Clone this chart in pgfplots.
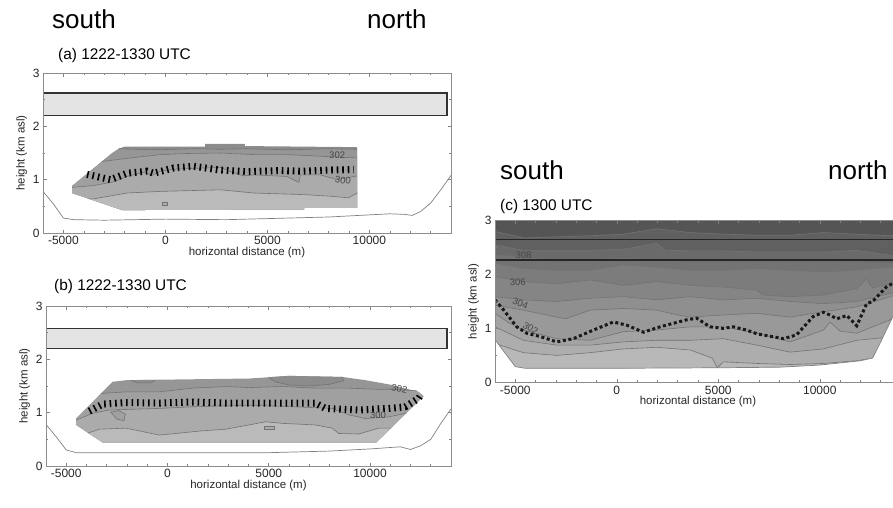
\documentclass[border=0pt]{standalone}
\usepackage{fontspec}
\setmainfont{Liberation Sans}
\usepackage{pgfplots}
\pgfplotsset{compat=1.18}

% grey levels of the filled bands
\definecolor{gA1}{HTML}{8C8C8C}
\definecolor{gA2}{HTML}{969696}
\definecolor{gA3}{HTML}{A0A0A0}
\definecolor{gA4}{HTML}{ABABAB}
\definecolor{gA5}{HTML}{BABABA}
\definecolor{box}{HTML}{E4E4E4}
\definecolor{c0}{HTML}{555555}
\definecolor{c1}{HTML}{606060}
\definecolor{c2}{HTML}{6A6A6A}
\definecolor{c3}{HTML}{737373}
\definecolor{c4}{HTML}{7C7C7C}
\definecolor{c5}{HTML}{858585}
\definecolor{c6}{HTML}{8F8F8F}
\definecolor{c7}{HTML}{999999}
\definecolor{c8}{HTML}{A3A3A3}
\definecolor{c9}{HTML}{ADADAD}
\definecolor{c10}{HTML}{B8B8B8}

\tikzset{lab/.style={font=\fontsize{9.5}{11}\selectfont, text=black!72, inner sep=0.3pt}}

\pgfplotsset{
  panel/.style={
    scale only axis, anchor=south west, axis on top,
    xmin=-6000, xmax=14000, ymin=0, ymax=3,
    xtick={-5000,0,5000,10000}, xticklabels={-5000,0,5000,10000},
    minor xtick={-6000,-4000,-3000,-2000,-1000,1000,2000,3000,4000,6000,7000,8000,9000,11000,12000,13000},
    ytick={0,1,2,3}, yticklabels={0,1,2,3}, minor ytick={0.5,1.5,2.5},
    scaled x ticks=false,
    tick align=inside, major tick length=3.5pt, minor tick length=2pt,
    axis line style={draw=black!45, line width=0.7pt},
    tick style={black!50, line width=0.6pt},
    tick label style={font=\fontsize{12}{14}\selectfont, text=black!85},
    xlabel={horizontal distance (m)}, ylabel={height (km asl)},
    label style={font=\fontsize{11.5}{13}\selectfont, text=black!85},
    xlabel style={yshift=5pt}, ylabel style={yshift=-1pt},
  },
  cl/.style={draw=black!55, line width=0.6pt},
  pbl/.style={black, line width=7pt, dash pattern=on 1.6pt off 3.9pt},
  pblc/.style={black!90, line width=3pt, dash pattern=on 3pt off 2.6pt},
  terr/.style={draw=black!50, line width=0.7pt},
}

\begin{document}
\begin{tikzpicture}
\useasboundingbox (0pt,0pt) rectangle (893pt,507pt);
\clip (0pt,0pt) rectangle (893pt,507pt);

% ---------------- panel (a)
\begin{axis}[panel, at={(43pt,274pt)}, width=408pt, height=160pt]
\addplot[fill=gA1, draw=none] coordinates {(-4575,0.88) (-2600,1.5) (-2280,1.58) (-2000,1.62) (1950,1.62) (1950,1.67) (3900,1.67) (3900,1.63) (9400,1.61) (9400,0.47) (6800,0.47) (6800,0.44) (-2120,0.43) (-4575,0.75)} --cycle;
\addplot[fill=gA2, draw=none] coordinates {(-2280,1.58) (-500,1.56) (1500,1.58) (2700,1.57) (4000,1.58) (6000,1.56) (8000,1.58) (9400,1.57) (9400,0.47) (6800,0.47) (6800,0.44) (-2120,0.43) (-4575,0.75) (-4575,0.88) (-2600,1.5)} --cycle;
\addplot[fill=gA3, draw=none] coordinates {(-3110,1.34) (-1880,1.4) (-245,1.47) (1000,1.49) (2700,1.5) (4330,1.47) (5960,1.47) (7600,1.44) (9230,1.41) (9400,1.41) (9400,0.47) (6800,0.47) (6800,0.44) (-2120,0.43) (-4575,0.75) (-4575,0.88)} --cycle;
\addplot[fill=gA4, draw=none] coordinates {(-4575,0.855) (-3513,0.89) (-2530,0.96) (-1879,1.06) (-1062,1.14) (-654,1.08) (-245,1.16) (573,1.2) (2700,1.23) (3350,1.13) (3840,1.07) (4330,1.09) (5960,1.06) (6540,0.95) (6620,1.09) (7600,1.09) (8415,1.0) (9400,1.07) (9400,0.47) (6800,0.47) (6800,0.44) (-2120,0.43) (-4575,0.75)} --cycle;
\addplot[fill=gA5, draw=none] coordinates {(-3760,0.64) (-3513,0.64) (-1879,0.75) (-245,0.78) (2700,0.81) (4330,0.75) (6770,0.72) (8090,0.69) (8970,0.66) (9400,0.75) (9400,0.47) (6800,0.47) (6800,0.44) (-2120,0.43)} --cycle;
\addplot[cl] coordinates {(-2280,1.58) (-500,1.56) (1500,1.58) (2700,1.57) (4000,1.58) (6000,1.56) (8000,1.58) (9400,1.57)};
\addplot[cl] coordinates {(-3110,1.34) (-1880,1.4) (-245,1.47) (1000,1.49) (2700,1.5) (4330,1.47) (5960,1.47) (7600,1.44) (9230,1.41) (9400,1.41)};
\addplot[cl] coordinates {(-4575,0.855) (-3513,0.89) (-2530,0.96) (-1879,1.06) (-1062,1.14) (-654,1.08) (-245,1.16) (573,1.2) (2700,1.23) (3350,1.13) (3840,1.07) (4330,1.09) (5960,1.06) (6540,0.95) (6620,1.09) (7600,1.09) (8415,1.0) (9400,1.07)};
\addplot[cl] coordinates {(-3760,0.64) (-3513,0.64) (-1879,0.75) (-245,0.78) (2700,0.81) (4330,0.75) (6770,0.72) (8090,0.69) (8970,0.66) (9400,0.75)};
\addplot[cl, fill=gA4] coordinates {(-150,0.52) (100,0.52) (100,0.57) (-150,0.57)} --cycle;
\addplot[pbl] coordinates {(-3840,1.1) (-2700,1.0) (-1879,1.12) (-900,1.16) (-572,1.12) (408,1.22) (1390,1.25) (2700,1.18) (3960,1.15) (5500,1.17) (6780,1.16) (8000,1.18) (9230,1.19)};
\addplot[fill=box, draw=black!80, line width=1.4pt] coordinates {(-6000,2.2) (13800,2.2) (13800,2.625) (-6000,2.625)} --cycle;
\addplot[terr] coordinates {(-6000,0.78) (-5500,0.55) (-5000,0.28) (-4500,0.25) (-3000,0.24) (0,0.26) (3000,0.25) (5000,0.27) (8000,0.3) (10000,0.34) (11000,0.36) (11700,0.35) (12100,0.33) (12500,0.4) (13000,0.56) (13500,0.81) (14000,1.08)};
\node[lab] at (axis cs:8420,1.45) {302};
\node[lab, rotate=-8] at (axis cs:8700,0.99) {300};
\end{axis}

% ---------------- panel (b)
\begin{axis}[panel, at={(46pt,41pt)}, width=405pt, height=160pt]
\addplot[fill=gA2, draw=none] coordinates {(-4510,0.89) (-2710,1.58) (-2000,1.61) (0,1.62) (2000,1.63) (4030,1.64) (6000,1.69) (8620,1.67) (9770,1.61) (11080,1.52) (12400,1.39) (12650,1.31) (10300,0.44) (-3200,0.44) (-4510,0.77)} --cycle;
\addplot[fill=gA1, draw=none] coordinates {(5000,1.665) (6000,1.69) (8620,1.67) (8700,1.6) (8000,1.53) (7000,1.5) (6000,1.52) (5300,1.58)} --cycle;
\addplot[fill=gA1, draw=none] coordinates {(-1800,1.61) (-1500,1.56) (-800,1.56) (-600,1.615)} --cycle;
\addplot[fill=gA3, draw=none] coordinates {(-3283,1.36) (-2050,1.39) (-410,1.39) (1230,1.46) (2870,1.49) (4020,1.47) (5660,1.49) (7300,1.46) (8950,1.46) (10260,1.44) (11080,1.44) (12300,1.41) (12650,1.31) (10300,0.44) (-3200,0.44) (-4510,0.77) (-4510,0.89)} --cycle;
\addplot[fill=gA4, draw=none] coordinates {(-4510,0.86) (-3690,0.99) (-2870,1.05) (-2050,1.06) (-410,1.08) (1230,1.11) (4020,1.14) (5660,1.12) (8130,1.08) (8950,0.96) (9770,0.89) (10920,0.92) (11786,0.99) (10300,0.44) (-3200,0.44) (-4510,0.77)} --cycle;
\addplot[fill=gA5, draw=none] coordinates {(-3915,0.62) (-3360,0.69) (-2050,0.71) (-410,0.58) (410,0.61) (1720,0.66) (2870,0.69) (4020,0.77) (4850,0.83) (5660,0.8) (7300,0.77) (8130,0.71) (8460,0.61) (9440,0.6) (10430,0.71) (11030,0.71) (10300,0.44) (-3200,0.44)} --cycle;
\addplot[cl] coordinates {(5000,1.665) (5300,1.58) (6000,1.52) (7000,1.5) (8000,1.53) (8700,1.6) (8620,1.67)};
\addplot[cl] coordinates {(-1800,1.61) (-1500,1.56) (-800,1.56) (-600,1.615)};
\addplot[cl] coordinates {(-3283,1.36) (-2050,1.39) (-410,1.39) (1230,1.46) (2870,1.49) (4020,1.47) (5660,1.49) (7300,1.46) (8950,1.46) (10260,1.44) (11080,1.44) (12300,1.41)};
\addplot[cl] coordinates {(-4510,0.86) (-3690,0.99) (-2870,1.05) (-2050,1.06) (-410,1.08) (1230,1.11) (4020,1.14) (5660,1.12) (8130,1.08) (8950,0.96) (9770,0.89) (10920,0.92) (11786,0.99)};
\addplot[cl] coordinates {(-3915,0.62) (-3360,0.69) (-2050,0.71) (-410,0.58) (410,0.61) (1720,0.66) (2870,0.69) (4020,0.77) (4850,0.83) (5660,0.8) (7300,0.77) (8130,0.71) (8460,0.61) (9440,0.6) (10430,0.71) (11030,0.71)};
\addplot[cl, fill=gA3] coordinates {(-2800,1.01) (-2500,0.88) (-2150,0.85) (-2080,0.97) (-2400,1.04)} --cycle;
\addplot[cl, fill=gA4] coordinates {(4800,0.69) (5250,0.69) (5250,0.74) (4800,0.74)} --cycle;
\addplot[pbl] coordinates {(-3860,1.03) (-3200,1.16) (-2050,1.19) (-410,1.18) (1230,1.2) (2870,1.18) (4020,1.18) (7300,1.18) (7800,1.08) (9440,1.05) (10920,1.08) (11740,1.11) (12400,1.27) (12560,1.36)};
\addplot[fill=box, draw=black!80, line width=1.4pt] coordinates {(-6000,2.2) (13800,2.2) (13800,2.58) (-6000,2.58)} --cycle;
\addplot[terr] coordinates {(-6000,0.78) (-5500,0.55) (-5000,0.3) (-4500,0.25) (0,0.25) (5000,0.25) (8000,0.28) (10000,0.32) (11500,0.36) (12000,0.31) (12500,0.38) (13000,0.5) (13500,0.8) (14000,1.07)};
\node[lab, rotate=-12] at (axis cs:11450,1.45) {302};
\node[lab] at (axis cs:10400,0.95) {300};
\end{axis}

% ---------------- panel (c)
\begin{axis}[panel, at={(495pt,124.7pt)}, width=406pt, height=161.6pt]
\addplot[fill=c0, draw=none] coordinates {(-6000,0) (14000,0) (14000,3) (-6000,3)} --cycle;
\addplot[fill=c1, draw=none] coordinates {(-6000,2.80) (-4600,2.68) (-2960,2.70) (-1315,2.72) (325,2.75) (1970,2.85) (3610,2.78) (5250,2.75) (6900,2.73) (8540,2.73) (10180,2.78) (11820,2.75) (13460,2.72) (14000,2.72) (14000,0) (-6000,0)} --cycle;
\addplot[fill=c2, draw=none] coordinates {(-6000,2.55) (-4600,2.45) (-2960,2.45) (-1315,2.45) (325,2.47) (1970,2.58) (2400,2.45) (3610,2.44) (5250,2.44) (6900,2.42) (8540,2.42) (10180,2.42) (11820,2.45) (13460,2.36) (14000,2.36) (14000,0) (-6000,0)} --cycle;
\addplot[fill=c3, draw=none] coordinates {(-6000,2.36) (-4600,2.33) (-2960,2.24) (-1315,2.27) (325,2.30) (1970,2.27) (3610,2.24) (5250,2.24) (6900,2.24) (8540,2.24) (10180,2.24) (11820,2.24) (13460,2.21) (14000,2.21) (14000,0) (-6000,0)} --cycle;
\addplot[fill=c4, draw=none] coordinates {(-6000,2.21) (-4600,2.11) (-2960,2.08) (-1315,2.08) (325,2.18) (1970,2.14) (3610,2.08) (5250,2.08) (6900,2.11) (8540,2.08) (10180,2.05) (11820,2.08) (13460,2.14) (14000,2.14) (14000,0) (-6000,0)} --cycle;
\addplot[fill=c5, draw=none] coordinates {(-6000,1.96) (-4600,1.87) (-2960,1.83) (-1315,1.90) (325,1.80) (1970,1.87) (3610,1.80) (5250,1.77) (6900,1.71) (7200,1.62) (8540,1.59) (10180,1.62) (11820,1.74) (12300,1.92) (12600,1.75) (13460,1.83) (14000,1.85) (14000,0) (-6000,0)} --cycle;
\addplot[fill=c6, draw=none] coordinates {(-6000,1.59) (-4600,1.53) (-2960,1.50) (-1315,1.56) (325,1.59) (1970,1.53) (3610,1.59) (5250,1.53) (6900,1.56) (8540,1.50) (10180,1.46) (11820,1.50) (13460,1.65) (14000,1.68) (14000,0) (-6000,0)} --cycle;
\addplot[fill=c7, draw=none] coordinates {(-6000,1.43) (-4600,1.34) (-2960,1.21) (-2500,1.18) (-1315,1.34) (325,1.37) (1970,1.34) (3000,1.25) (3610,1.21) (5250,1.25) (6900,1.28) (8540,1.21) (10180,1.31) (11820,1.40) (13460,1.59) (14000,1.65) (14000,0) (-6000,0)} --cycle;
\addplot[fill=c8, draw=none] coordinates {(-6000,1.28) (-5300,1.1) (-4600,0.97) (-2960,0.81) (-1315,0.78) (325,0.94) (1970,0.97) (3610,1.03) (5250,1.03) (6900,0.91) (8540,0.75) (10180,0.97) (10500,1.12) (11000,0.95) (11820,0.91) (13460,1.16) (14000,1.28) (14000,0) (-6000,0)} --cycle;
\addplot[fill=c9, draw=none] coordinates {(-6000,1.03) (-4600,0.78) (-2960,0.69) (-1315,0.69) (325,0.75) (1970,0.78) (3610,0.78) (5250,0.81) (6900,0.69) (8540,0.56) (10180,0.62) (11820,0.78) (13460,0.84) (14000,0.97) (14000,0) (-6000,0)} --cycle;
\addplot[fill=c10, draw=none] coordinates {(-6000,0.72) (-4600,0.55) (-2960,0.5) (-1315,0.55) (325,0.62) (1970,0.65) (3610,0.6) (4700,0.45) (4950,0.27) (5250,0.38) (6900,0.35) (8540,0.33) (10180,0.35) (11820,0.4) (13460,0.5) (14000,0.7) (14000,0) (-6000,0)} --cycle;
% contour lines
\addplot[cl] coordinates {(-6000,2.80) (-4600,2.68) (-2960,2.70) (-1315,2.72) (325,2.75) (1970,2.85) (3610,2.78) (5250,2.75) (6900,2.73) (8540,2.73) (10180,2.78) (11820,2.75) (13460,2.72) (14000,2.72)};
\addplot[cl] coordinates {(-6000,2.55) (-4600,2.45) (-2960,2.45) (-1315,2.45) (325,2.47) (1970,2.58) (2400,2.45) (3610,2.44) (5250,2.44) (6900,2.42) (8540,2.42) (10180,2.42) (11820,2.45) (13460,2.36) (14000,2.36)};
\addplot[cl] coordinates {(-6000,2.36) (-4600,2.33) (-2960,2.24) (-1315,2.27) (325,2.30) (1970,2.27) (3610,2.24) (5250,2.24) (6900,2.24) (8540,2.24) (10180,2.24) (11820,2.24) (13460,2.21) (14000,2.21)};
\addplot[cl] coordinates {(-6000,2.21) (-4600,2.11) (-2960,2.08) (-1315,2.08) (325,2.18) (1970,2.14) (3610,2.08) (5250,2.08) (6900,2.11) (8540,2.08) (10180,2.05) (11820,2.08) (13460,2.14) (14000,2.14)};
\addplot[cl] coordinates {(-6000,1.96) (-4600,1.87) (-2960,1.83) (-1315,1.90) (325,1.80) (1970,1.87) (3610,1.80) (5250,1.77) (6900,1.71) (7200,1.62) (8540,1.59) (10180,1.62) (11820,1.74) (12300,1.92) (12600,1.75) (13460,1.83) (14000,1.85)};
\addplot[cl] coordinates {(-6000,1.59) (-4600,1.53) (-2960,1.50) (-1315,1.56) (325,1.59) (1970,1.53) (3610,1.59) (5250,1.53) (6900,1.56) (8540,1.50) (10180,1.46) (11820,1.50) (13460,1.65) (14000,1.68)};
\addplot[cl] coordinates {(-6000,1.43) (-4600,1.34) (-2960,1.21) (-2500,1.18) (-1315,1.34) (325,1.37) (1970,1.34) (3000,1.25) (3610,1.21) (5250,1.25) (6900,1.28) (8540,1.21) (10180,1.31) (11820,1.40) (13460,1.59) (14000,1.65)};
\addplot[cl] coordinates {(-6000,1.28) (-5300,1.1) (-4600,0.97) (-2960,0.81) (-1315,0.78) (325,0.94) (1970,0.97) (3610,1.03) (5250,1.03) (6900,0.91) (8540,0.75) (10180,0.97) (10500,1.12) (11000,0.95) (11820,0.91) (13460,1.16) (14000,1.28)};
\addplot[cl] coordinates {(-6000,1.03) (-4600,0.78) (-2960,0.69) (-1315,0.69) (325,0.75) (1970,0.78) (3610,0.78) (5250,0.81) (6900,0.69) (8540,0.56) (10180,0.62) (11820,0.78) (13460,0.84) (14000,0.97)};
\addplot[cl] coordinates {(-6000,0.72) (-4600,0.55) (-2960,0.5) (-1315,0.55) (325,0.62) (1970,0.65) (3610,0.6) (4700,0.45) (4950,0.27) (5250,0.38) (6900,0.35) (8540,0.33) (10180,0.35) (11820,0.4) (13460,0.5) (14000,0.7)};
% ground below the terrain
\addplot[fill=white, draw=none] coordinates {(-6000,0.79) (-5000,0.29) (-4500,0.26) (0,0.26) (5000,0.27) (8000,0.28) (10000,0.32) (11000,0.36) (12000,0.4) (12600,0.45) (13000,0.75) (13600,1.22) (14000,1.55) (14000,0) (-6000,0)} --cycle;
\addplot[terr] coordinates {(-6000,0.79) (-5000,0.29) (-4500,0.26) (0,0.26) (5000,0.27) (8000,0.28) (10000,0.32) (11000,0.36) (12000,0.4) (12600,0.45) (13000,0.75) (13600,1.22) (14000,1.55)};
\addplot[pblc] coordinates {(-6000,1.53) (-5570,1.34) (-4930,1.03) (-4430,0.91) (-3780,0.85) (-2960,0.75) (-2140,0.81) (-1150,0.97) (-170,1.12) (490,1.06) (1310,0.93) (2130,1.03) (3440,1.16) (3930,1.19) (4590,1.03) (5250,1.0) (5740,1.03) (6390,0.97) (6900,0.9) (8210,0.81) (8850,0.88) (9670,1.22) (10180,1.30) (10490,1.25) (10840,1.18) (11330,1.24) (11820,1.05) (12310,1.46) (12600,1.5) (13280,1.77) (13600,1.84) (14000,2.0)};
\addplot[draw=black!85, line width=1.2pt] coordinates {(-6000,2.27) (14200,2.27) (14200,2.65) (-6000,2.65)} --cycle;
\node[lab] at (axis cs:-4590,2.36) {308};
\node[lab] at (axis cs:-4880,1.86) {306};
\node[lab, rotate=-22] at (axis cs:-4750,1.46) {304};
\node[lab, rotate=-30] at (axis cs:-4250,1.0) {302};
\end{axis}

% titles and compass words
\node[anchor=base west, inner sep=0pt, font=\fontsize{15.4}{17}\selectfont] at (58pt,447pt) {(a) 1222-1330 UTC};
\node[anchor=base west, inner sep=0pt, font=\fontsize{15.4}{17}\selectfont] at (54pt,217pt) {(b) 1222-1330 UTC};
\node[anchor=base west, inner sep=0pt, font=\fontsize{15.4}{17}\selectfont] at (500pt,297pt) {(c) 1300 UTC};
\node[anchor=base west, font=\fontsize{26}{30}\selectfont, inner sep=0pt] at (52pt,478pt) {south};
\node[anchor=base west, font=\fontsize{26}{30}\selectfont, inner sep=0pt] at (367pt,478pt) {north};
\node[anchor=base west, font=\fontsize{26}{30}\selectfont, inner sep=0pt] at (500pt,328pt) {south};
\node[anchor=base west, font=\fontsize{26}{30}\selectfont, inner sep=0pt] at (828pt,328pt) {north};
\end{tikzpicture}
\end{document}
